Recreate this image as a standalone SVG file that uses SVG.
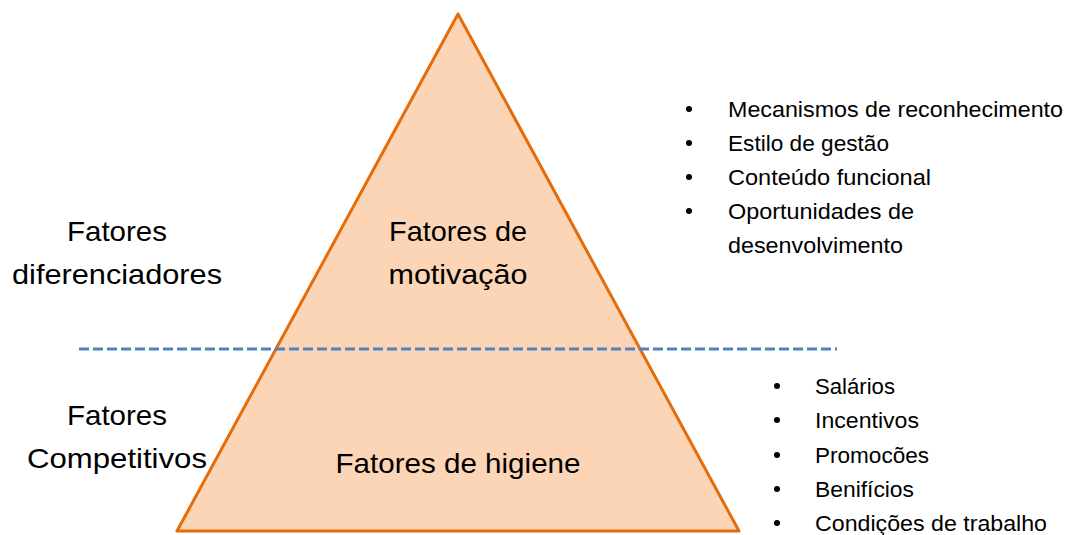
<svg xmlns="http://www.w3.org/2000/svg" width="1069" height="535" viewBox="0 0 1069 535">
<style>
.big{font-family:"Liberation Sans",Arial,sans-serif;font-size:28px;fill:#000;}
.sm{font-family:"Liberation Sans",Arial,sans-serif;font-size:22px;fill:#000;}
</style>
<rect width="1069" height="535" fill="#fff"/>
<g id="pyramid">
<polygon points="458,14 177,531 739,531" fill="#FBD5B5" stroke="#E46C0A" stroke-width="3" stroke-linejoin="round"/>
<text class="big" x="458" y="241" text-anchor="middle" textLength="138" lengthAdjust="spacingAndGlyphs">Fatores de</text>
<text class="big" x="458" y="284" text-anchor="middle" textLength="139" lengthAdjust="spacingAndGlyphs">motivação</text>
<text class="big" x="458" y="473" text-anchor="middle" textLength="245" lengthAdjust="spacingAndGlyphs">Fatores de higiene</text>
</g>
<g id="connectors">
<line x1="79" y1="349" x2="837" y2="349" stroke="#4F81BD" stroke-width="3" stroke-dasharray="10,4"/>
</g>
<g id="left-labels">
<text class="big" x="117" y="241" text-anchor="middle" textLength="100" lengthAdjust="spacingAndGlyphs">Fatores</text>
<text class="big" x="117" y="284" text-anchor="middle" textLength="210" lengthAdjust="spacingAndGlyphs">diferenciadores</text>
<text class="big" x="117" y="425" text-anchor="middle" textLength="100" lengthAdjust="spacingAndGlyphs">Fatores</text>
<text class="big" x="117" y="468" text-anchor="middle" textLength="180" lengthAdjust="spacingAndGlyphs">Competitivos</text>
</g>
<g id="motivation-list">
<g fill="#000"><circle cx="689" cy="109" r="3"/><circle cx="689" cy="143" r="3"/><circle cx="689" cy="177" r="3"/><circle cx="689" cy="211" r="3"/></g>
<text class="sm" x="728" y="117" textLength="335" lengthAdjust="spacingAndGlyphs">Mecanismos de reconhecimento</text>
<text class="sm" x="728" y="151" textLength="161" lengthAdjust="spacingAndGlyphs">Estilo de gestão</text>
<text class="sm" x="728" y="185" textLength="203" lengthAdjust="spacingAndGlyphs">Conteúdo funcional</text>
<text class="sm" x="728" y="219" textLength="186" lengthAdjust="spacingAndGlyphs">Oportunidades de</text>
<text class="sm" x="728" y="253" textLength="175" lengthAdjust="spacingAndGlyphs">desenvolvimento</text>
</g>
<g id="hygiene-list">
<g fill="#000"><circle cx="777" cy="386" r="3"/><circle cx="777" cy="420" r="3"/><circle cx="777" cy="455" r="3"/><circle cx="777" cy="489" r="3"/><circle cx="777" cy="523" r="3"/></g>
<text class="sm" x="815" y="394" textLength="80" lengthAdjust="spacingAndGlyphs">Salários</text>
<text class="sm" x="815" y="428" textLength="104" lengthAdjust="spacingAndGlyphs">Incentivos</text>
<text class="sm" x="815" y="463" textLength="114" lengthAdjust="spacingAndGlyphs">Promocões</text>
<text class="sm" x="815" y="497" textLength="99" lengthAdjust="spacingAndGlyphs">Benifícios</text>
<text class="sm" x="815" y="531" textLength="232" lengthAdjust="spacingAndGlyphs">Condições de trabalho</text>
</g>
</svg>
